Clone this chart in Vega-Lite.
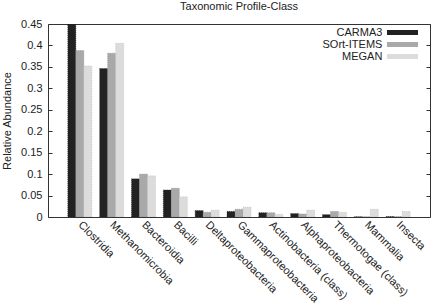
{
  "$schema": "https://vega.github.io/schema/vega-lite/v6.json",
  "width": 382,
  "height": 193,
  "autosize": {"type": "none"},
  "padding": {"left": 48, "top": 24, "right": 2, "bottom": 86},
  "background": "white",
  "title": {"text": "Taxonomic Profile-Class", "fontSize": 11, "font": "Liberation Sans", "fontWeight": "normal", "color": "#222", "offset": 6},
  "config": {
    "font": "Liberation Sans",
    "view": {"stroke": "#333", "strokeWidth": 1},
    "axis": {"labelFont": "Liberation Sans", "titleFont": "Liberation Sans", "labelColor": "#222", "titleColor": "#222", "labelFontSize": 11, "titleFontSize": 11, "titleFontWeight": "normal", "domain": false, "grid": false}
  },
  "data": {"values": [
    {"cls": "Clostridia", "method": "CARMA3", "v": 0.45},
    {"cls": "Clostridia", "method": "SOrt-ITEMS", "v": 0.388},
    {"cls": "Clostridia", "method": "MEGAN", "v": 0.352},
    {"cls": "Methanomicrobia", "method": "CARMA3", "v": 0.346},
    {"cls": "Methanomicrobia", "method": "SOrt-ITEMS", "v": 0.382},
    {"cls": "Methanomicrobia", "method": "MEGAN", "v": 0.405},
    {"cls": "Bacteroidia", "method": "CARMA3", "v": 0.089},
    {"cls": "Bacteroidia", "method": "SOrt-ITEMS", "v": 0.1},
    {"cls": "Bacteroidia", "method": "MEGAN", "v": 0.096},
    {"cls": "Bacilli", "method": "CARMA3", "v": 0.063},
    {"cls": "Bacilli", "method": "SOrt-ITEMS", "v": 0.067},
    {"cls": "Bacilli", "method": "MEGAN", "v": 0.047},
    {"cls": "Deltaproteobacteria", "method": "CARMA3", "v": 0.015},
    {"cls": "Deltaproteobacteria", "method": "SOrt-ITEMS", "v": 0.011},
    {"cls": "Deltaproteobacteria", "method": "MEGAN", "v": 0.016},
    {"cls": "Gammaproteobacteria", "method": "CARMA3", "v": 0.013},
    {"cls": "Gammaproteobacteria", "method": "SOrt-ITEMS", "v": 0.018},
    {"cls": "Gammaproteobacteria", "method": "MEGAN", "v": 0.023},
    {"cls": "Actinobacteria (class)", "method": "CARMA3", "v": 0.01},
    {"cls": "Actinobacteria (class)", "method": "SOrt-ITEMS", "v": 0.01},
    {"cls": "Actinobacteria (class)", "method": "MEGAN", "v": 0.006},
    {"cls": "Alphaproteobacteria", "method": "CARMA3", "v": 0.008},
    {"cls": "Alphaproteobacteria", "method": "SOrt-ITEMS", "v": 0.007},
    {"cls": "Alphaproteobacteria", "method": "MEGAN", "v": 0.016},
    {"cls": "Thermotogae (class)", "method": "CARMA3", "v": 0.0055},
    {"cls": "Thermotogae (class)", "method": "SOrt-ITEMS", "v": 0.013},
    {"cls": "Thermotogae (class)", "method": "MEGAN", "v": 0.011},
    {"cls": "Mammalia", "method": "CARMA3", "v": 0.0005},
    {"cls": "Mammalia", "method": "SOrt-ITEMS", "v": 0.0005},
    {"cls": "Mammalia", "method": "MEGAN", "v": 0.018},
    {"cls": "Insecta", "method": "CARMA3", "v": 0.001},
    {"cls": "Insecta", "method": "SOrt-ITEMS", "v": 0.001},
    {"cls": "Insecta", "method": "MEGAN", "v": 0.013}
  ]},
  "encoding": {
    "x": {"field": "cls", "type": "nominal", "sort": null,
      "scale": {"paddingInner": 0, "paddingOuter": 0.5, "align": 0.5},
      "axis": {"title": null, "labelAngle": 45, "labelAlign": "left", "labelBaseline": "middle", "ticks": false, "labelPadding": 6, "labelFontSize": 11}},
    "xOffset": {"field": "method", "type": "nominal", "sort": ["CARMA3", "SOrt-ITEMS", "MEGAN"],
      "scale": {"paddingInner": 0, "paddingOuter": 0.49}},
    "y": {"field": "v", "type": "quantitative", "scale": {"domain": [0, 0.45], "nice": false, "clamp": true}}
  },
  "layer": [
    {
      "mark": {"type": "bar", "clip": true, "strokeWidth": 0.6, "strokeDash": [1, 1]},
      "encoding": {
        "y": {"field": "v", "type": "quantitative", "axis": {"title": "Relative Abundance", "values": [0, 0.05, 0.1, 0.15, 0.2, 0.25, 0.3, 0.35, 0.4, 0.45], "format": ".2~f", "tickSize": -4, "tickColor": "#333", "labelPadding": 10, "titlePadding": 8}},
        "color": {"field": "method", "type": "nominal", "sort": ["CARMA3", "SOrt-ITEMS", "MEGAN"],
          "scale": {"domain": ["CARMA3", "SOrt-ITEMS", "MEGAN"], "range": ["#222222", "#a9a9a9", "#dcdcdc"]},
          "legend": {"title": null, "orient": "none", "legendX": 349, "legendY": 3, "padding": 0, "symbolType": "M-3,-0.5H3V0.5H-3Z", "symbolSize": 107, "symbolStrokeWidth": 0, "labelAlign": "right", "labelOffset": -25.6, "labelFontSize": 11, "labelColor": "#222", "rowPadding": 0, "labelFont": "Liberation Sans"}},
        "stroke": {"field": "method", "type": "nominal", "scale": {"domain": ["CARMA3", "SOrt-ITEMS", "MEGAN"], "range": ["#222222", "#8a8a8a", "#bbbbbb"]}, "legend": null}
      }
    },
    {
      "mark": {"type": "bar", "opacity": 0},
      "encoding": {
        "y": {"field": "v", "type": "quantitative", "axis": {"orient": "right", "title": null, "labels": false, "values": [0, 0.05, 0.1, 0.15, 0.2, 0.25, 0.3, 0.35, 0.4, 0.45], "tickSize": -4, "tickColor": "#333"}}
      }
    }
  ],
  "resolve": {"axis": {"y": "independent"}}
}
